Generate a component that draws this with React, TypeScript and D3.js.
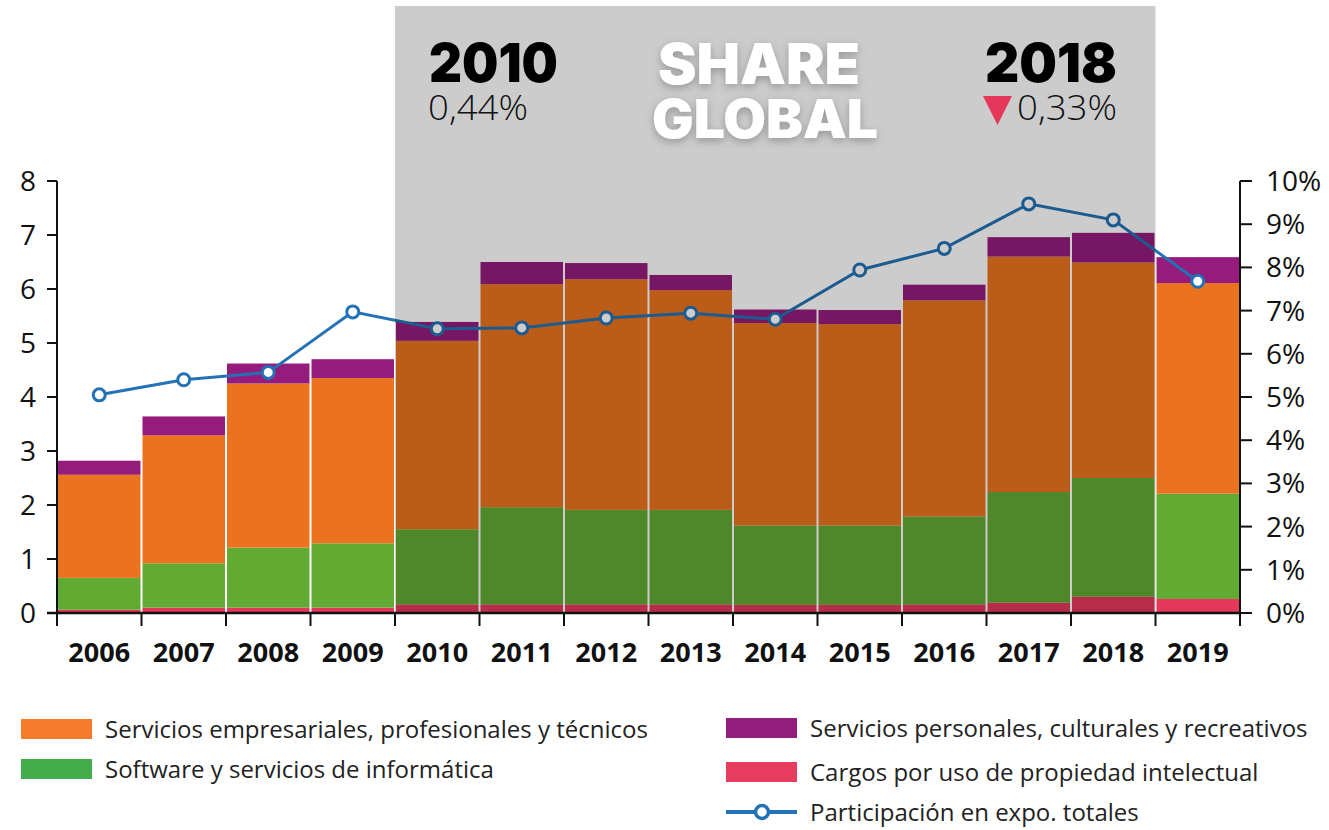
import React from "react";
import * as d3 from "d3";

const years = ["2006","2007","2008","2009","2010","2011","2012","2013","2014","2015","2016","2017","2018","2019"];
const cargos = [0.06,0.1,0.1,0.1,0.16,0.16,0.16,0.16,0.15,0.15,0.16,0.19,0.3,0.26];
const software = [0.59,0.82,1.11,1.19,1.39,1.8,1.75,1.75,1.47,1.47,1.63,2.05,2.2,1.95];
const empresariales = [1.91,2.37,3.04,3.06,3.49,4.13,4.27,4.07,3.75,3.73,4.0,4.36,3.99,3.9];
const personales = [0.26,0.35,0.37,0.35,0.35,0.41,0.3,0.28,0.25,0.26,0.29,0.36,0.55,0.48];
const participacion = [5.05,5.4,5.57,6.97,6.58,6.6,6.83,6.94,6.8,7.94,8.44,9.47,9.1,7.68];
const leftTicks = [0,1,2,3,4,5,6,7,8];
const rightTicks = [0,1,2,3,4,5,6,7,8,9,10];
const seriesKeys = ["cargos","software","empresariales","personales"];
const barColors: Record<string,string> = {
  cargos: "#E5375A",
  software: "#62AB32",
  empresariales: "#EB7320",
  personales: "#951C7C",
};
const legendColors: Record<string,string> = {
  cargos: "#E63C5E",
  software: "#43AC4A",
  empresariales: "#F47B2C",
  personales: "#921D7C",
};
const legendLabels: Record<string,string> = {
  empresariales: "Servicios empresariales, profesionales y técnicos",
  software: "Software y servicios de informática",
  personales: "Servicios personales, culturales y recreativos",
  cargos: "Cargos por uso de propiedad intelectual",
};
const lineLabel = "Participación en expo. totales";
const highlightStart = "2010";
const highlightEnd = "2018";

export default function App() {
  const W = 1329, H = 830;
  const x0 = 57, x1 = 1240, yTop = 181, yBot = 613;
  const x = d3.scaleBand<string>().domain(years).range([x0, x1]).padding(0);
  const y = d3.scaleLinear().domain([0, 8]).range([yBot, yTop]);
  const yR = d3.scaleLinear().domain([0, 10]).range([yBot, yTop]);

  const rows = years.map((yr, i) => ({
    year: yr, cargos: cargos[i], software: software[i], empresariales: empresariales[i], personales: personales[i],
  }));
  const stack = d3.stack<any>().keys(seriesKeys)(rows);
  const line = d3.line<number>().x((_, i) => (x(years[i]) as number) + x.bandwidth() / 2).y(d => yR(d));

  const hx0 = x(highlightStart) as number;
  const hx1 = (x(highlightEnd) as number) + x.bandwidth();
  const font = "'Open Sans', 'Noto Sans', sans-serif";
  const heavy = "Inter, 'Lato', sans-serif";
  const lineColor = "#2272B5";

  const boundaries = years.map(yr => x(yr) as number).concat([x1]);

  return (
    <svg width={W} height={H} style={{ position: "absolute", left: 0, top: 0, background: "#fff" }} fontFamily={font}>
      <defs>
        <filter id="sh" x="-20%" y="-20%" width="140%" height="160%">
          <feDropShadow dx="0" dy="3" stdDeviation="4" floodColor="#555" floodOpacity="0.45" />
        </filter>
      </defs>
      {/* bars */}
      {stack.map(s => (
        <g key={s.key}>
          {s.map((d, i) => (
            <rect key={i}
              x={(x(years[i]) as number) + 1}
              width={x.bandwidth() - 2}
              y={y(d[1])}
              height={y(d[0]) - y(d[1])}
              fill={barColors[s.key]} />
          ))}
        </g>
      ))}
      {/* line */}
      <path d={line(participacion) || ""} fill="none" stroke={lineColor} strokeWidth={3} />
      {participacion.map((v, i) => (
        <circle key={i} cx={(x(years[i]) as number) + x.bandwidth() / 2} cy={yR(v)} r={6}
          fill="#fff" stroke={lineColor} strokeWidth={3} />
      ))}
      {/* highlight overlay */}
      <rect x={hx0} y={6} width={hx1 - hx0} height={yBot - 6} fill="#000" fillOpacity={0.2} />
      {/* axes */}
      <line x1={x0} x2={x0} y1={yTop} y2={yBot} stroke="#111" strokeWidth={2} />
      <line x1={x1} x2={x1} y1={yTop} y2={yBot + 12} stroke="#111" strokeWidth={2} />
      <line x1={x0 - 10} x2={x1} y1={yBot} y2={yBot} stroke="#111" strokeWidth={2.5} />
      {leftTicks.map(t => (
        <g key={"l" + t}>
          <line x1={x0 - 10} x2={x0} y1={y(t)} y2={y(t)} stroke="#111" strokeWidth={2} />
          <text x={28} y={y(t)} dy="0.36em" textAnchor="middle" fontSize={28} fill="#111">{t}</text>
        </g>
      ))}
      {rightTicks.map(t => (
        <g key={"r" + t}>
          <line x1={x1} x2={x1 + 12} y1={yR(t)} y2={yR(t)} stroke="#111" strokeWidth={2} />
          <text x={x1 + 26} y={yR(t)} dy="0.36em" textAnchor="start" fontSize={28} fill="#111">{t}%</text>
        </g>
      ))}
      {boundaries.map((bx, i) => (
        <line key={"b" + i} x1={bx} x2={bx} y1={yBot} y2={yBot + 13} stroke="#111" strokeWidth={2} />
      ))}
      {years.map(yr => (
        <text key={yr} x={(x(yr) as number) + x.bandwidth() / 2} y={662} textAnchor="middle"
          fontSize={27} fontWeight={700} fill="#111">{yr}</text>
      ))}
      {/* header texts */}
      <text x={429} y={82} fontFamily={heavy} fontWeight={900} fontSize={54} fill="#000"
        textLength={129} lengthAdjust="spacingAndGlyphs">2010</text>
      <text x={428} y={120} fontWeight={300} fontSize={35} fill="#111"
        textLength={100} lengthAdjust="spacingAndGlyphs">0,44%</text>
      <text x={1117} y={82} textAnchor="end" fontFamily={heavy} fontWeight={900} fontSize={54} fill="#000"
        textLength={132} lengthAdjust="spacingAndGlyphs">2018</text>
      <path d="M983,96 L1012,96 L997.5,125 Z" fill="#E5375A" />
      <text x={1117} y={120} textAnchor="end" fontWeight={300} fontSize={35} fill="#111"
        textLength={100} lengthAdjust="spacingAndGlyphs">0,33%</text>
      <g filter="url(#sh)">
        <text x={759} y={84} textAnchor="middle" fontFamily={heavy} fontWeight={900} fontSize={56} fill="#fff"
          textLength={202} lengthAdjust="spacingAndGlyphs">SHARE</text>
        <text x={765} y={138} textAnchor="middle" fontFamily={heavy} fontWeight={900} fontSize={53} fill="#fff"
          textLength={226} lengthAdjust="spacingAndGlyphs">GLOBAL</text>
      </g>
      {/* legend */}
      {[
        { k: "empresariales", lx: 21, ly: 719 },
        { k: "software", lx: 21, ly: 759 },
        { k: "personales", lx: 726, ly: 718 },
        { k: "cargos", lx: 726, ly: 762 },
      ].map(it => (
        <g key={it.k}>
          <rect x={it.lx} y={it.ly} width={71} height={20} fill={legendColors[it.k]} />
          <text x={it.lx + 84} y={it.ly + 10} dy="0.36em" fontSize={24} fill="#222">{legendLabels[it.k]}</text>
        </g>
      ))}
      <line x1={726} x2={797} y1={812} y2={812} stroke={lineColor} strokeWidth={4} />
      <circle cx={762} cy={812} r={6.5} fill="#fff" stroke={lineColor} strokeWidth={3.5} />
      <text x={810} y={812} dy="0.36em" fontSize={24} fill="#222">{lineLabel}</text>
    </svg>
  );
}
